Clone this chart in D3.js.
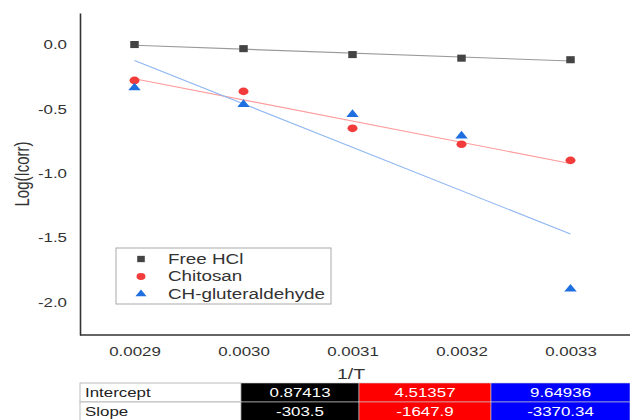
<!DOCTYPE html>
<html>
<head>
<meta charset="utf-8">
<script src="https://cdn.jsdelivr.net/npm/d3@7"></script>
<style>
  body { margin: 0; background: #fff; }
  svg { display: block; font-family: "Liberation Sans", Arial, sans-serif; }
</style>
</head>
<body>
<div id="chart"></div>
<script>
// valores
const xVals = [0.0029, 0.0030, 0.0031, 0.0032, 0.0033];
const freeHCl = [0.0, -0.032, -0.078, -0.106, -0.118];
const chitosan = [-0.279, -0.364, -0.651, -0.775, -0.9];
const chGlut = [-0.336, -0.465, -0.543, -0.71, -1.9];
const seriesNames = ["Free HCl", "Chitosan", "CH-gluteraldehyde"];
const intercepts = [0.87413, 4.51357, 9.64936];
const slopes = [-303.5, -1647.9, -3370.34];
const interceptLabels = ["0.87413", "4.51357", "9.64936"];
const slopeLabels = ["-303.5", "-1647.9", "-3370.34"];
const yTicks = [0.0, -0.5, -1.0, -1.5, -2.0];

const width = 630, height = 420;
const m = { left: 80, top: 13, right: 5, bottom: 85 };
const SX = 1.3; // a imagem original está esticada na horizontal

const svg = d3.select("#chart").append("svg")
  .attr("width", width)
  .attr("height", height);

const x = d3.scaleLinear().domain([0.00285, 0.00335]).range([m.left, width - m.right]);
const y = d3.scaleLinear().domain([-2.257, 0.245]).range([height - m.bottom, m.top]);

const fmt = f => v => f(v).replace("\u2212", "-");

// texto esticado à volta do ponto (x, y)
function txt(g, tx, ty, s, size, anchor, fill) {
  return g.append("text")
    .attr("transform", `translate(${tx},${ty}) scale(${SX},1)`)
    .attr("text-anchor", anchor || "start")
    .attr("dominant-baseline", "central")
    .attr("font-size", size)
    .attr("fill", fill || "#333")
    .text(s);
}

// eixos
const yAxis = svg.append("g")
  .attr("transform", `translate(${m.left},0)`)
  .call(d3.axisLeft(y).tickValues(yTicks).tickSize(0).tickSizeOuter(0).tickPadding(10).tickFormat(fmt(d3.format(".1f"))));

const xAxis = svg.append("g")
  .attr("transform", `translate(0,${height - m.bottom})`)
  .call(d3.axisBottom(x).tickValues(xVals).tickSize(0).tickSizeOuter(0).tickPadding(12).tickFormat(fmt(d3.format(".4f"))));

[yAxis, xAxis].forEach(a => {
  a.select(".domain").attr("stroke", "#333").attr("stroke-width", 1.6);
  a.selectAll("text").attr("font-size", 13).attr("fill", "#333")
    .attr("font-family", "Liberation Sans, Arial, sans-serif")
    .attr("transform", `scale(${SX},1)`);
});
xAxis.select(".domain").attr("d", `M${m.left},0H${width}`);

svg.append("text")
  .attr("transform", `translate(22,${(m.top + height - m.bottom) / 2}) scale(${SX},1) rotate(-90)`)
  .attr("text-anchor", "middle")
  .attr("dominant-baseline", "central")
  .attr("font-size", 15)
  .attr("fill", "#333")
  .text("Log(Icorr)");

txt(svg, 351, 374, "1/T", 15, "middle");

// séries
const series = [
  { name: seriesNames[0], vals: freeHCl, sym: d3.symbolSquare, size: 50, sx: 1.2, fill: "#444444", line: "#9a9a9a" },
  { name: seriesNames[1], vals: chitosan, sym: d3.symbolCircle, size: 46, sx: 1.3, fill: "#f23b3b", line: "#ff9c9c" },
  { name: seriesNames[2], vals: chGlut, sym: d3.symbolTriangle, size: 34, sx: 1.4, fill: "#1f6fe0", line: "#8db6f2" }
];

// retas de ajuste (intercept + slope da tabela)
const x0 = xVals[0], x1 = xVals[xVals.length - 1];
series.forEach((s, i) => {
  svg.append("line")
    .attr("x1", x(x0)).attr("y1", y(intercepts[i] + slopes[i] * x0))
    .attr("x2", x(x1)).attr("y2", y(intercepts[i] + slopes[i] * x1))
    .attr("stroke", s.line)
    .attr("stroke-width", 1.1);
});

series.forEach(s => {
  svg.append("g").selectAll("path")
    .data(xVals.map((xv, j) => [xv, s.vals[j]]))
    .join("path")
    .attr("transform", d => `translate(${x(d[0])},${y(d[1])}) scale(${s.sx},1)`)
    .attr("d", d3.symbol(s.sym, s.size))
    .attr("fill", s.fill);
});

// legenda
const lg = svg.append("g").attr("transform", "translate(116,248)");
lg.append("rect")
  .attr("width", 215).attr("height", 56)
  .attr("fill", "#fff").attr("stroke", "#aaa").attr("stroke-width", 1);
series.forEach((s, i) => {
  const cy = 11 + i * 17.5;
  lg.append("path")
    .attr("transform", `translate(25,${cy}) scale(${s.sx},1)`)
    .attr("d", d3.symbol(s.sym, s.size * 0.8))
    .attr("fill", s.fill);
  txt(lg, 52, cy, s.name, 14.5, "start");
});

// tabela
const colX = [80, 241, 359, 491, 630];
const rowY = [383, 402, 421];
const cellColors = ["#000000", "#ff0000", "#0000ff"];
const rows = [["Intercept", interceptLabels], ["Slope", slopeLabels]];
const tb = svg.append("g");
rows.forEach((r, ri) => {
  const cy = (rowY[ri] + rowY[ri + 1]) / 2;
  tb.append("rect")
    .attr("x", colX[0]).attr("y", rowY[ri])
    .attr("width", colX[1] - colX[0]).attr("height", rowY[ri + 1] - rowY[ri])
    .attr("fill", "#fff").attr("stroke", "#bbb");
  txt(tb, colX[0] + 5, cy, r[0], 13, "start", "#222");
  r[1].forEach((v, ci) => {
    tb.append("rect")
      .attr("x", colX[ci + 1]).attr("y", rowY[ri])
      .attr("width", colX[ci + 2] - colX[ci + 1]).attr("height", rowY[ri + 1] - rowY[ri])
      .attr("fill", cellColors[ci]).attr("stroke", "#ccc").attr("stroke-width", 0.6);
    txt(tb, (colX[ci + 1] + colX[ci + 2]) / 2, cy, v, 13, "middle", "#fff");
  });
});
</script>
</body>
</html>
